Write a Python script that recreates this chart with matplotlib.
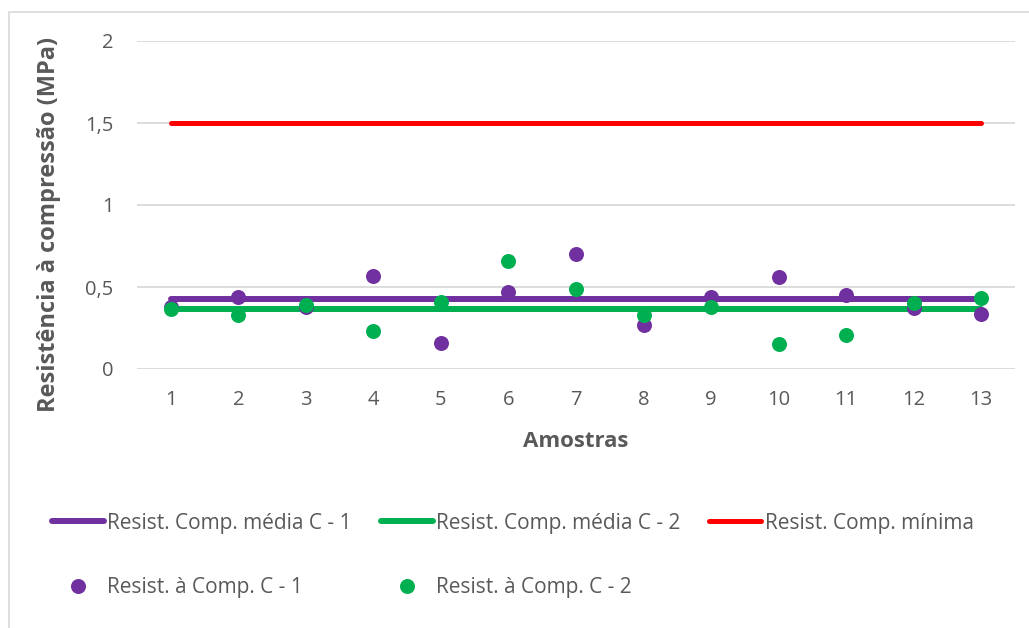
import matplotlib
matplotlib.use("Agg")
import matplotlib.pyplot as plt
from matplotlib.patches import Rectangle

plt.rcParams['font.family'] = ['Open Sans', 'DejaVu Sans']

amostras = list(range(1, 14))
resist_c1 = [0.38, 0.44, 0.38, 0.57, 0.16, 0.47, 0.70, 0.27, 0.44, 0.56, 0.45, 0.37, 0.335]
resist_c2 = [0.365, 0.33, 0.39, 0.23, 0.41, 0.66, 0.49, 0.33, 0.38, 0.15, 0.21, 0.40, 0.43]
media_c1 = 0.425
media_c2 = 0.367
resist_minima = 1.5

yticks = [0, 0.5, 1, 1.5, 2]
ytick_labels = ["0", "0,5", "1", "1,5", "2"]

roxo = "#7030A0"
verde = "#00B050"
vermelho = "#FF0000"
cinza = "#595959"

fig = plt.figure(figsize=(10.29, 6.28), dpi=100)
# moldura cinza do gráfico
fig.patches.append(Rectangle((9 / 1029, -0.1), 1.2, 1 - 12 / 628 + 0.1,
                             transform=fig.transFigure, fill=False,
                             edgecolor="#D9D9D9", linewidth=1.2))

ax = fig.add_axes([137 / 1029, 1 - 369 / 628, 878 / 1029, 328 / 628])

l1, = ax.plot(amostras, [media_c1] * len(amostras), color=roxo, lw=4.3,
              solid_capstyle="round", zorder=3)
l2, = ax.plot(amostras, [media_c2] * len(amostras), color=verde, lw=4.3,
              solid_capstyle="round", zorder=3)
l3, = ax.plot(amostras, [resist_minima] * len(amostras), color=vermelho, lw=3.6,
              solid_capstyle="round", zorder=3)
p1, = ax.plot(amostras, resist_c1, "o", color=roxo, ms=10.8, mew=0, zorder=4)
p2, = ax.plot(amostras, resist_c2, "o", color=verde, ms=10.8, mew=0, zorder=5)

ax.set_xlim(0.5, 13.5)
ax.set_ylim(0, 2)
ax.set_xticks(amostras)
ax.set_yticks(yticks)
ax.set_yticklabels(ytick_labels)
ax.grid(axis="y", color="#D9D9D9", lw=1.3)
ax.set_axisbelow(True)
for s in ax.spines.values():
    s.set_visible(False)
ax.tick_params(length=0, labelsize=14.5, colors=cinza)
ax.tick_params(axis="y", pad=17)
ax.tick_params(axis="x", pad=15)

ax.set_xlabel("Amostras", fontsize=16, fontweight="bold", color=cinza, labelpad=15)
ax.set_ylabel("Resistência à compressão (MPa)", fontsize=17, fontweight="bold",
              color=cinza)
ax.yaxis.set_label_coords(-0.086, 0.442)

leg = fig.legend([l1, p1, l2, p2, l3],
                 ["Resist. Comp. média C - 1", "Resist. à Comp. C - 1",
                  "Resist. Comp. média C - 2", "Resist. à Comp. C - 2",
                  "Resist. Comp. mínima"],
                 ncol=3, loc="upper left", bbox_to_anchor=(33 / 1029, 1 - 494 / 628),
                 frameon=False, fontsize=15, handlelength=2.5, handletextpad=0.15,
                 columnspacing=1.4, labelspacing=2.1, numpoints=1,
                 labelcolor=cinza)

fig.savefig("out.png", dpi=100)
